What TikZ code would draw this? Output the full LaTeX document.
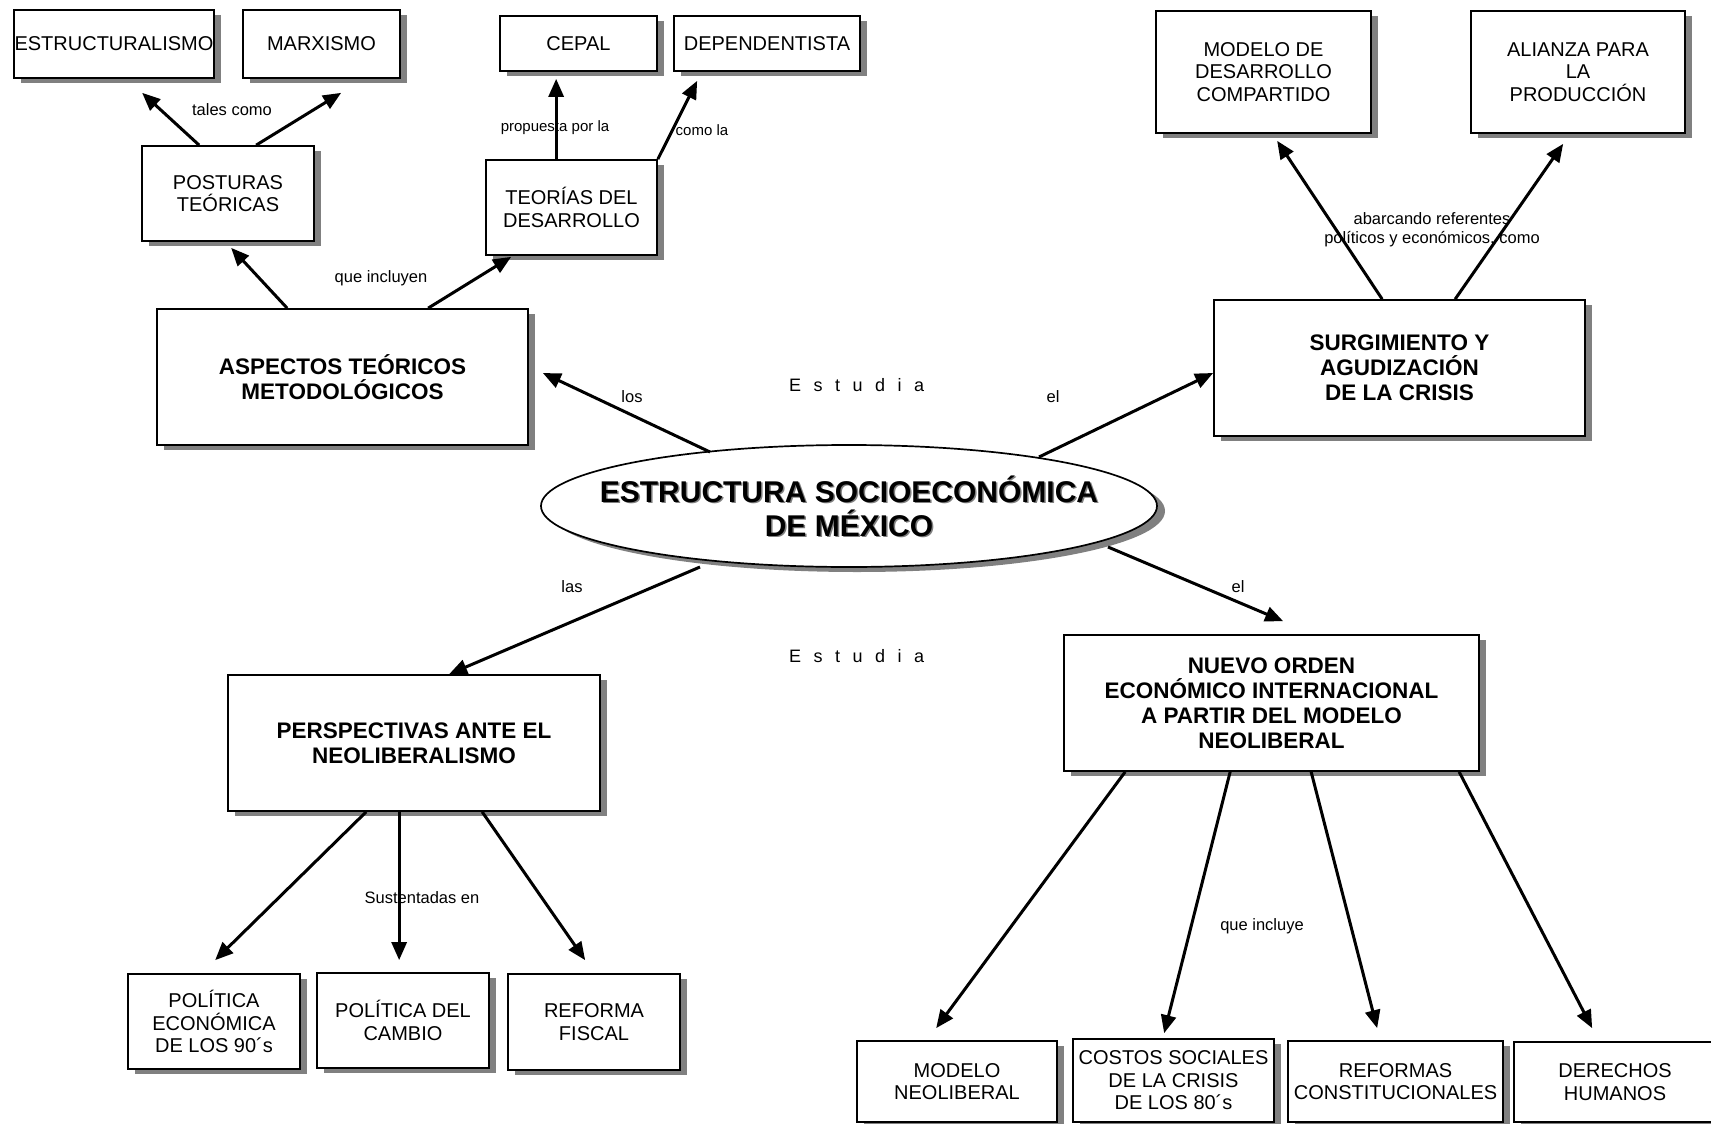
\documentclass[tikz,border=0pt]{standalone}
\usepackage{fontspec}
\setmainfont{Liberation Sans}
\usetikzlibrary{arrows.meta,shadows,calc,shapes.geometric}
\begin{document}
\begin{tikzpicture}[x=1pt,y=-1pt,
  shad/.style={drop shadow={shadow xshift=7pt,shadow yshift=-5pt,fill=black!50,opacity=1}},
  box/.style={draw=black,line width=1.7pt,fill=white,align=center,inner sep=0pt,shad,
    font=\fontsize{20}{22.5}\selectfont},
  bbox/.style={box,font=\bfseries\fontsize{22.5}{25}\selectfont},
  lbl/.style={inner sep=0pt,align=center,font=\fontsize{16.5}{19}\selectfont},
  slbl/.style={inner sep=0pt,font=\fontsize{15}{17}\selectfont},
  arr/.style={line width=3pt,-{Triangle[length=18pt,width=15pt]}},
  est/.style={inner sep=0pt,anchor=base west,font=\fontsize{18}{20}\selectfont}]
\useasboundingbox (0,0) rectangle (1711,1124);
\fill[white] (0,0) rectangle (1711,1124);

% labels
\node[lbl] (ltales) at (232,110) {tales como};
\node[slbl] (lprop) at (555,128) {propuesta por la};
\node[slbl] (lcomo) at (702,130) {como la};
\node[lbl] (lincl) at (381,278) {que incluyen};
\node[lbl] (llos) at (632,397) {los};
\node[est] (lest1) at (789,391) {E\hspace{12.5pt}s\hspace{12.5pt}t\hspace{12.5pt}u\hspace{12.5pt}d\hspace{12.5pt}i\hspace{12.5pt}a};
\node[lbl] (lel1) at (1053,397) {el};
\node[lbl] (labar) at (1432,230) {abarcando referentes\\políticos y económicos, como};
\node[lbl] (llas) at (572,587) {las};
\node[lbl] (lel2) at (1238,587) {el};
\node[est] (lest2) at (789,662) {E\hspace{12.5pt}s\hspace{12.5pt}t\hspace{12.5pt}u\hspace{12.5pt}d\hspace{12.5pt}i\hspace{12.5pt}a};
\node[lbl] (lsust) at (422,898) {Sustentadas en};
\node[lbl] (lqinc) at (1262,926) {que incluye};

% boxes
\node[box,minimum width=200,minimum height=68] (estr) at (114,44) {ESTRUCTURALISMO};
\node[box,minimum width=157,minimum height=68] (marx) at (321.5,44) {MARXISMO};
\node[box,minimum width=157,minimum height=55] (cepal) at (578.5,43.5) {CEPAL};
\node[box,minimum width=186,minimum height=55] (dep) at (767,43.5) {DEPENDENTISTA};
\node[box,minimum width=172,minimum height=95] (post) at (228,193.5) {POSTURAS\\TEÓRICAS};
\node[box,minimum width=171,minimum height=95] (teor) at (571.5,207.5) {TEORÍAS DEL\\DESARROLLO};
\node[bbox,minimum width=371,minimum height=136] (asp) at (342.5,377) {ASPECTOS TEÓRICOS\\METODOLÓGICOS};
\node[box,minimum width=215,minimum height=122] (mod) at (1263.5,72) {MODELO DE\\DESARROLLO\\COMPARTIDO};
\node[box,minimum width=214,minimum height=122] (ali) at (1578,72) {ALIANZA PARA\\LA\\PRODUCCIÓN};
\node[bbox,minimum width=371,minimum height=136] (surg) at (1399.5,368) {SURGIMIENTO Y\\AGUDIZACIÓN\\DE LA CRISIS};
\node[draw=black,line width=1.7pt,fill=white,ellipse,inner sep=0pt,minimum width=616,minimum height=122,
  drop shadow={shadow xshift=8pt,shadow yshift=-5pt,fill=black!50,opacity=1}] (ell) at (849,506) {};
\node[align=center,inner sep=0pt,text=black!50,font=\bfseries\fontsize{30}{34}\selectfont] (ellsh) at (850.5,507.5) {ESTRUCTURA SOCIOECONÓMICA\\DE MÉXICO};
\node[align=center,inner sep=0pt,font=\bfseries\fontsize{30}{34}\selectfont] (elltxt) at (849,506) {ESTRUCTURA SOCIOECONÓMICA\\DE MÉXICO};
\node[bbox,minimum width=372,minimum height=136] (persp) at (414,743) {PERSPECTIVAS ANTE EL\\NEOLIBERALISMO};
\node[bbox,minimum width=415,minimum height=136] (nuevo) at (1271.5,703) {NUEVO ORDEN\\ECONÓMICO INTERNACIONAL\\A PARTIR DEL MODELO\\NEOLIBERAL};
\node[box,minimum width=172,minimum height=95] (pol90) at (214,1021.5) {POLÍTICA\\ECONÓMICA\\DE LOS 90´s};
\node[box,minimum width=172,minimum height=95] (polcam) at (403,1020.5) {POLÍTICA DEL\\CAMBIO};
\node[box,minimum width=172,minimum height=96] (refis) at (594,1022) {REFORMA\\FISCAL};
\node[box,minimum width=200,minimum height=81] (modneo) at (957,1081.5) {MODELO\\NEOLIBERAL};
\node[box,minimum width=201,minimum height=83] (costos) at (1173.5,1080.5) {COSTOS SOCIALES\\DE LA CRISIS\\DE LOS 80´s};
\node[box,minimum width=215,minimum height=81] (reformas) at (1395.5,1081.5) {REFORMAS\\CONSTITUCIONALES};
\node[box,minimum width=202,minimum height=80] (derechos) at (1615,1082) {DERECHOS\\HUMANOS};

% arrows
\draw[arr] ($(post.north west)+(58,0)$) -- ($(estr.south west)+(129,14)$);
\draw[arr] ($(post.north west)+(115,0)$) -- ($(marx.south west)+(99,14)$);
\draw[arr] ($(teor.north west)+(71,0)$) -- ($(cepal.south west)+(57,7)$);
\draw[arr] (teor.north east) -- ($(dep.south west)+(24,9)$);
\draw[arr] ($(asp.north west)+(131,0)$) -- ($(post.south west)+(90,6)$);
\draw[arr] ($(asp.north west)+(272,0)$) -- ($(teor.south west)+(26,1)$);
\draw[arr] ($(ell.center)+(-139,-54)$) -- ($(asp.east)+(14,-4)$);
\draw[arr] ($(ell.center)+(190,-49)$) -- ($(surg.west)+(0,5)$);
\draw[arr] ($(surg.north west)+(169,0)$) -- ($(mod.south west)+(122,7)$);
\draw[arr] ($(surg.north west)+(242,0)$) -- ($(ali.south west)+(93,10)$);
\draw[arr] ($(ell.center)+(-149,61)$) -- ($(persp.north west)+(222,0)$);
\draw[arr] ($(ell.center)+(259,41)$) -- ($(nuevo.north west)+(220,-13)$);
\draw[arr] ($(persp.south west)+(139,0)$) -- ($(pol90.north west)+(88,-13)$);
\draw[arr] ($(persp.south west)+(172,0)$) -- ($(polcam.north west)+(83,-12)$);
\draw[arr] ($(persp.south west)+(255,0)$) -- ($(refis.north west)+(78,-13)$);
\draw[arr] ($(nuevo.south west)+(62,0)$) -- ($(modneo.north west)+(80,-12)$);
\draw[arr] ($(nuevo.south west)+(167,0)$) -- ($(costos.north west)+(92,-5)$);
\draw[arr] ($(nuevo.south west)+(248,0)$) -- ($(reformas.north west)+(90,-12)$);
\draw[arr] ($(nuevo.south west)+(396,0)$) -- ($(derechos.north west)+(79,-13)$);
\end{tikzpicture}
\end{document}
